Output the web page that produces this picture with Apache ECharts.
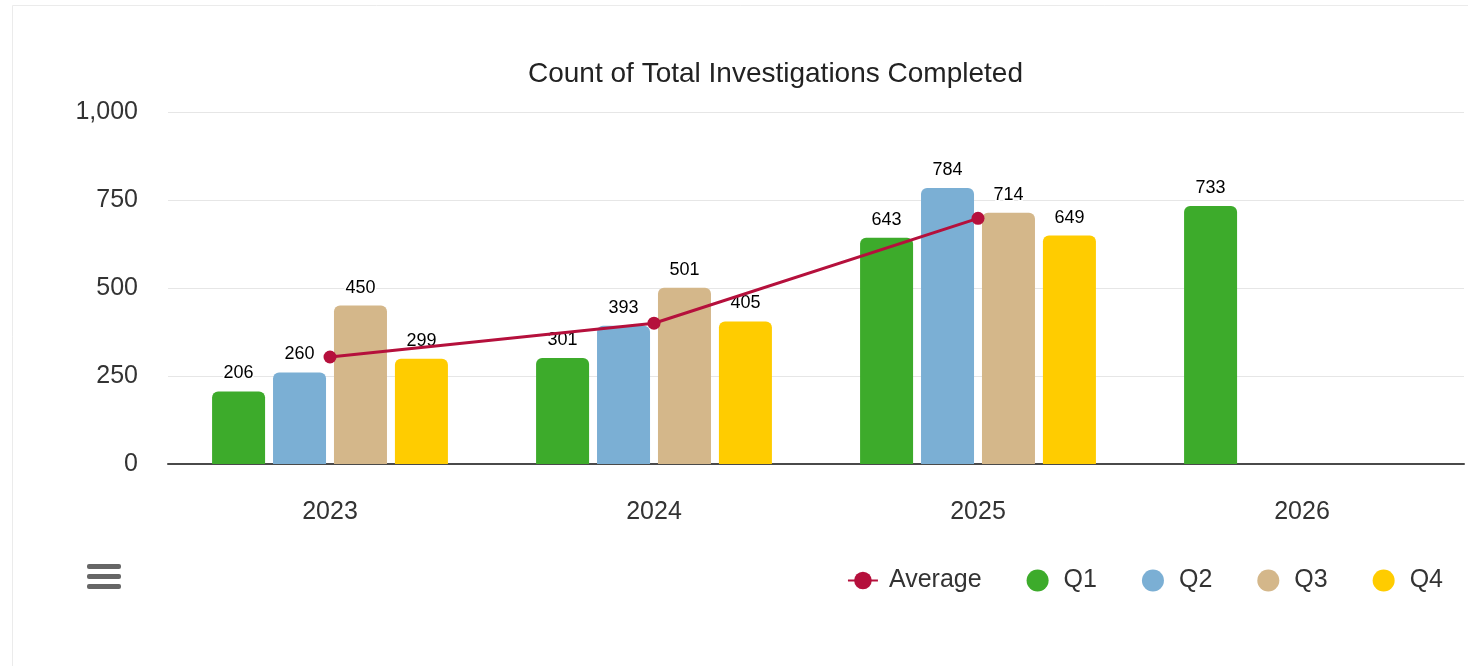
<!DOCTYPE html>
<html><head><meta charset="utf-8">
<script src="https://cdn.jsdelivr.net/npm/echarts@6/dist/echarts.min.js"></script>
<style>html,body{margin:0;padding:0;background:#fff}#c{width:1468px;height:666px}</style>
</head><body><div id="c"></div>
<script>
const years = ['2023', '2024', '2025', '2026'];
const q1 = [206, 301, 643, 733];
const q2 = [260, 393, 784, null];
const q3 = [450, 501, 714, null];
const q4 = [299, 405, 649, null];
const average = [304, 400, 698, null];
const seriesNames = ['Average', 'Q1', 'Q2', 'Q3', 'Q4'];
const yMin = 0, yMax = 1000, yStep = 250;

const FONT = 'Liberation Sans';
const colors = { Average: '#b5103c', Q1: '#3dab2b', Q2: '#7bafd4', Q3: '#d4b78a', Q4: '#ffcc00' };

function barSeries(name, data) {
  return {
    name, type: 'bar', data,
    barWidth: 53, barGap: '15%', barCategoryGap: '27%',
    itemStyle: { color: colors[name], borderRadius: [6, 6, 0, 0] },
    label: {
      show: true, position: 'top', distance: 9,
      fontFamily: FONT, fontSize: 18, color: '#000',
      textBorderColor: '#fff', textBorderWidth: 3
    },
    z: 2
  };
}

const chart = echarts.init(document.getElementById('c'), null, { renderer: 'canvas' });
chart.setOption({
  animation: false,
  backgroundColor: '#fff',
  title: {
    text: 'Count of Total Investigations Completed',
    left: 523, top: 55,
    textStyle: { fontFamily: FONT, fontSize: 28, fontWeight: 'normal', color: '#222' }
  },
  grid: { left: 168, right: 4, top: 112, bottom: 202, containLabel: false },
  legend: {
    data: seriesNames.map(n => n === 'Average' ? { name: n } : { name: n, icon: 'circle' }),
    right: 20, top: 563,
    itemWidth: 30, itemHeight: 22, itemGap: 45,
    textStyle: { fontFamily: FONT, fontSize: 25, color: '#333', padding: [0, 0, 0, 6] }
  },
  xAxis: {
    type: 'category', data: years,
    axisTick: { show: false },
    axisLine: { lineStyle: { color: '#4a4a4a', width: 2 } },
    axisLabel: { fontFamily: FONT, fontSize: 25, color: '#333', margin: 36 }
  },
  yAxis: {
    type: 'value', min: yMin, max: yMax, interval: yStep,
    axisLine: { show: false }, axisTick: { show: false },
    splitLine: { lineStyle: { color: '#e6e6e6', width: 1 } },
    axisLabel: {
      fontFamily: FONT, fontSize: 25, color: '#333', margin: 30,
      formatter: v => v.toLocaleString('en-US')
    }
  },
  graphic: [
    { type: 'rect', shape: { x: 12.5, y: 5.5, width: 1600, height: 800 }, style: { fill: 'none', stroke: '#ebebeb', lineWidth: 1 }, z: -10, silent: true },
    { type: 'rect', shape: { x: 87, y: 564, width: 34, height: 5, r: 2 }, style: { fill: '#666' } },
    { type: 'rect', shape: { x: 87, y: 574, width: 34, height: 5, r: 2 }, style: { fill: '#666' } },
    { type: 'rect', shape: { x: 87, y: 584, width: 34, height: 5, r: 2 }, style: { fill: '#666' } }
  ],
  series: [
    {
      name: 'Average', type: 'line', data: average,
      symbol: 'circle', symbolSize: 13,
      lineStyle: { color: colors.Average, width: 3 },
      itemStyle: { color: colors.Average },
      z: 5
    },
    barSeries('Q1', q1),
    barSeries('Q2', q2),
    barSeries('Q3', q3),
    barSeries('Q4', q4)
  ]
});
</script>
</body></html>
